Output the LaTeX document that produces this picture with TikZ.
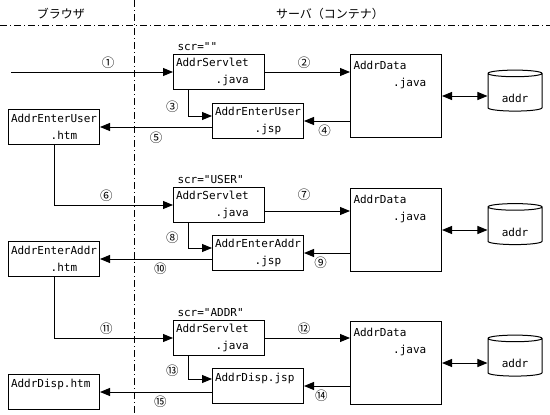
\documentclass[tikz,border=0pt]{standalone}
\usepackage{fontspec}
\setmonofont{DejaVu Sans Mono}
\newfontfamily\jpfont{Noto Sans CJK JP}
\usepackage{tikz}
\usetikzlibrary{arrows.meta,positioning,shapes.geometric,calc}

\begin{document}
\begin{tikzpicture}[x=1pt, y=-1pt, line width=1pt,
    every node/.style={font=\ttfamily\fontsize{11}{17}\selectfont},
    box/.style={draw, anchor=north west, align=left, text width=86pt,
      inner xsep=2.5pt, inner ysep=2pt, minimum height=35pt},
    databox/.style={draw, anchor=north west, minimum width=91pt, minimum height=83pt},
    datatext/.style={anchor=north west, align=left, inner xsep=3pt, inner ysep=7pt},
    db/.style={draw, cylinder, shape border rotate=90, aspect=0.25,
      minimum width=54pt, minimum height=41pt, inner sep=0pt,
      text height=20pt, text depth=0pt},
    lbl/.style={inner sep=1pt},
    head/.style={font=\jpfont\fontsize{12}{14}\selectfont},
    num/.style={font=\jpfont\fontsize{12.5}{14}\selectfont, inner sep=1pt},
    divider/.style={dash pattern=on 7pt off 3pt on 1pt off 3pt},
    arr/.style={-{Triangle[length=10pt,width=8pt]}},
    darr/.style={{Triangle[length=10pt,width=8pt]}-{Triangle[length=10pt,width=8pt]}}]
  \useasboundingbox (0,0) rectangle (550,415);

  % browser / server split
  \draw[divider] (0,25.5) -- (550,25.5);
  \draw[divider] (134,0) -- (134,415);
  \node[head] (brw) at (61,14) {ブラウザ};
  \node[head] (svr) at (330,14) {サーバ（コンテナ）};

  % first request
  \coordinate (in) at (11,72);
  \node[box] (srv1) at (173,54) {AddrServlet\\\hphantom{AAAAAA}.java};
  \node[lbl, above right=2pt and 3pt of srv1.north west] (scr1) {scr=""};
  \node[databox, label={[datatext]north west:{AddrData\\\hphantom{AAAAAA}.java}}] (data1) at (350,54) {};
  \node[db] (db1) at (515,92.5) {addr};
  \node[box] (jsp1) at (212,103) {AddrEnterUser\\\hphantom{AAAAAA}.jsp};
  \node[box] (htm1) at (8,109) {AddrEnterUser\\\hphantom{AAAAAA}.htm};

  \draw[arr] (in) -- node[num, above=2pt, pos=0.6] (n1) {①} (srv1.west);
  \draw[arr] (srv1.east) -- node[num, above=2pt, pos=0.46] (n2) {②} (srv1.east -| data1.west);
  \draw[darr] (data1.east) -- (data1.east -| db1.west);
  \draw[arr] ($(srv1.south west)+(15,0)$) |- node[num, left=8pt, pos=0.33] (n3) {③}
    ($(jsp1.north west)+(0,13)$);
  \draw[arr] (jsp1.east -| data1.west) -- node[num, below=2pt, pos=0.55] (n4) {④} (jsp1.east);
  \draw[arr] (htm1.east -| jsp1.west) -- node[num, below=3pt, pos=0.5] (n5) {⑤} (htm1.east);

  % scr="USER"
  \node[box] (srv2) at (173,187) {AddrServlet\\\hphantom{AAAAAA}.java};
  \node[lbl, above right=2pt and 3pt of srv2.north west] (scr2) {scr="USER"};
  \node[databox, label={[datatext]north west:{AddrData\\\hphantom{AAAAAA}.java}}] (data2) at (350,188) {};
  \node[db] (db2) at (515,226) {addr};
  \node[box] (jsp2) at (212,235) {AddrEnterAddr\\\hphantom{AAAAAA}.jsp};
  \node[box] (htm2) at (8,241) {AddrEnterAddr\\\hphantom{AAAAAA}.htm};
  \coordinate (o7) at ($(srv2.east)+(0,6)$);

  \draw[arr] (htm1.south) |- node[num, above=2pt, pos=0.72] (n6) {⑥} (srv2.west);
  \draw[arr] (o7) -- node[num, above=9pt, pos=0.46] (n7) {⑦} (o7 -| data2.west);
  \draw[darr] (data2.east) -- (data2.east -| db2.west);
  \draw[arr] ($(srv2.south west)+(15,0)$) |- node[num, left=8pt, pos=0.3] (n8) {⑧}
    ($(jsp2.north west)+(0,13)$);
  \draw[arr] (jsp2.east -| data2.west) -- node[num, below=2pt, pos=0.64] (n9) {⑨} (jsp2.east);
  \draw[arr] (htm2.east -| jsp2.west) -- node[num, below=2pt, pos=0.46] (n10) {⑩} (htm2.east);

  % scr="ADDR"
  \node[box] (srv3) at (173,320) {AddrServlet\\\hphantom{AAAAAA}.java};
  \node[lbl, above right=2pt and 3pt of srv3.north west] (scr3) {scr="ADDR"};
  \node[databox, label={[datatext]north west:{AddrData\\\hphantom{AAAAAA}.java}}] (data3) at (350,321) {};
  \node[db] (db3) at (515,357.5) {addr};
  \node[box] (jsp3) at (212,368) {AddrDisp.jsp\\\mbox{}};
  \node[box] (htm3) at (8,374) {AddrDisp.htm\\\mbox{}};

  \draw[arr] (htm2.south) |- node[num, above=2pt, pos=0.72] (n11) {⑪} (srv3.west);
  \draw[arr] (srv3.east) -- node[num, above=2pt, pos=0.46] (n12) {⑫} (srv3.east -| data3.west);
  \draw[darr] (data3.east) -- (data3.east -| db3.west);
  \draw[arr] ($(srv3.south west)+(15,0)$) |- node[num, left=8pt, pos=0.31] (n13) {⑬}
    ($(jsp3.north west)+(0,11)$);
  \draw[arr] (jsp3.east -| data3.west) -- node[num, below=2pt, pos=0.62] (n14) {⑭} (jsp3.east);
  \draw[arr] (htm3.east -| jsp3.west) -- node[num, below=2pt, pos=0.46] (n15) {⑮} (htm3.east);
\end{tikzpicture}
\end{document}
